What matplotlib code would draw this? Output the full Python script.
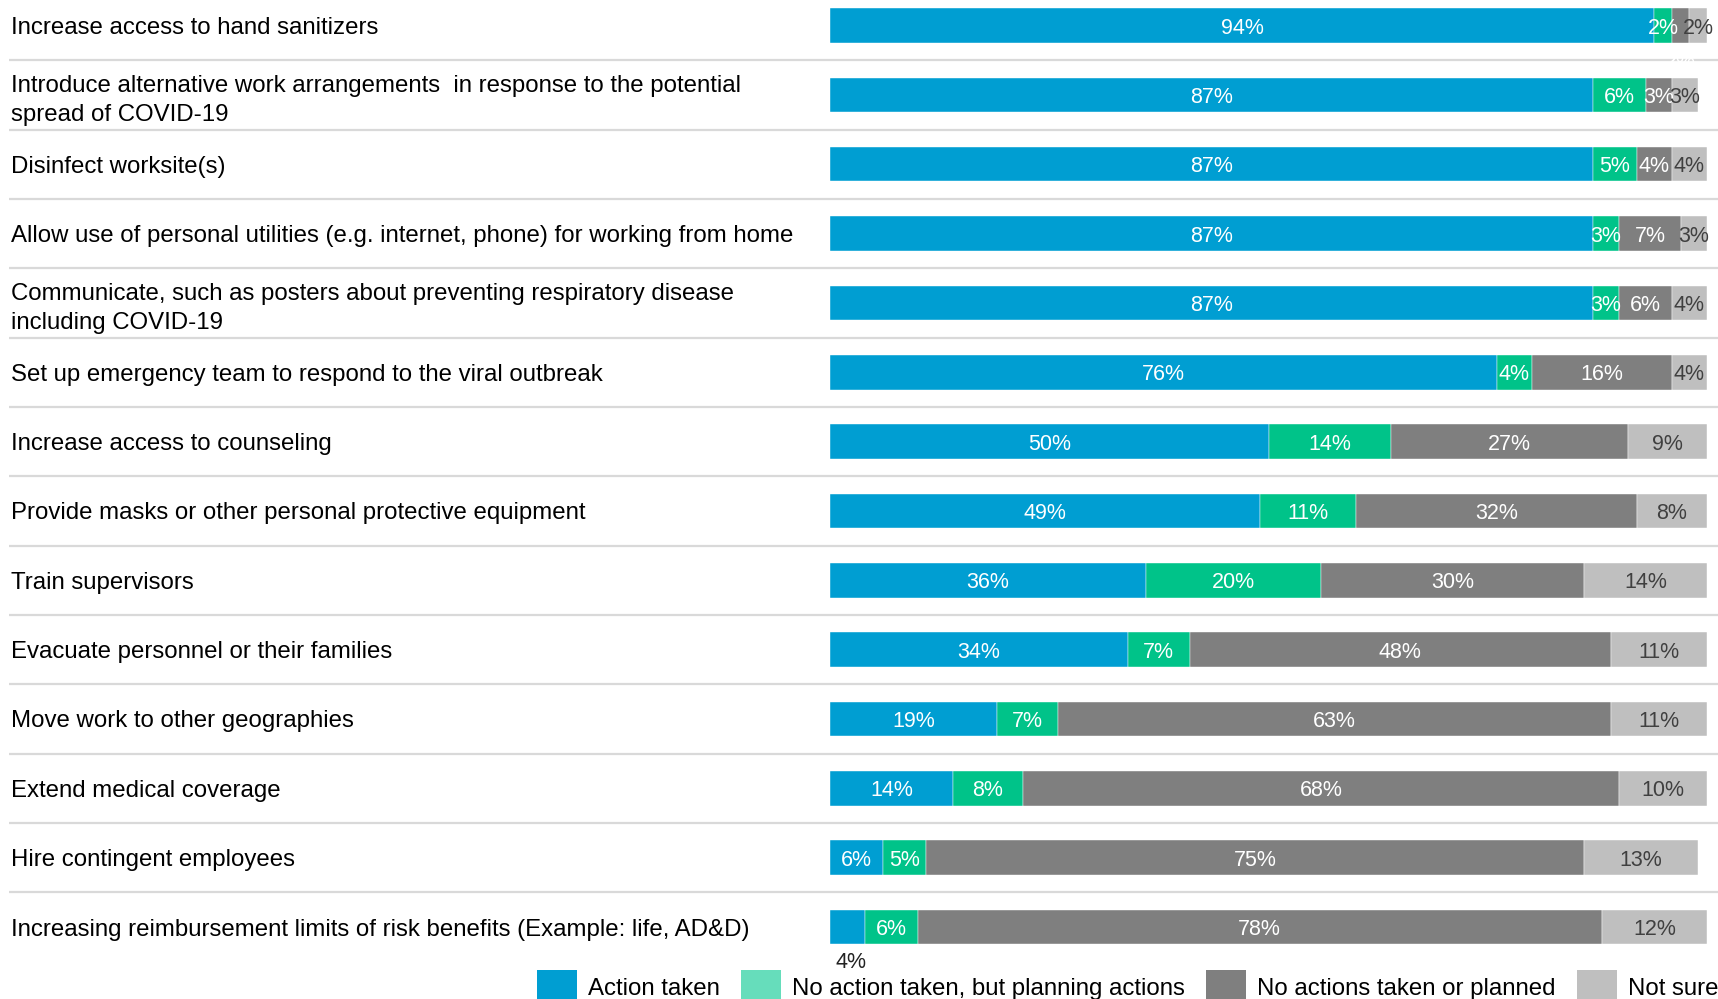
import matplotlib
matplotlib.use("Agg")
import matplotlib.pyplot as plt
import matplotlib.transforms as mtransforms
from matplotlib.patches import Patch

plt.rcParams["font.family"] = ["Liberation Sans", "DejaVu Sans"]

categories = [
    "Increase access to hand sanitizers",
    "Introduce alternative work arrangements  in response to the potential\nspread of COVID-19",
    "Disinfect worksite(s)",
    "Allow use of personal utilities (e.g. internet, phone) for working from home",
    "Communicate, such as posters about preventing respiratory disease\nincluding COVID-19",
    "Set up emergency team to respond to the viral outbreak",
    "Increase access to counseling",
    "Provide masks or other personal protective equipment",
    "Train supervisors",
    "Evacuate personnel or their families",
    "Move work to other geographies",
    "Extend medical coverage",
    "Hire contingent employees",
    "Increasing reimbursement limits of risk benefits (Example: life, AD&D)",
]

action_taken = [94, 87, 87, 87, 87, 76, 50, 49, 36, 34, 19, 14, 6, 4]
planning = [2, 6, 5, 3, 3, 4, 14, 11, 20, 7, 7, 8, 5, 6]
not_planned = [2, 3, 4, 7, 6, 16, 27, 32, 30, 48, 63, 68, 75, 78]
not_sure = [2, 3, 4, 3, 4, 4, 9, 8, 14, 11, 11, 10, 13, 12]

series_names = [
    "Action taken",
    "No action taken, but planning actions",
    "No actions taken or planned",
    "Not sure",
]
series_values = [action_taken, planning, not_planned, not_sure]
bar_colors = ["#009ED2", "#00C389", "#7F7F7F", "#BFBFBF"]
legend_colors = ["#009ED2", "#66DDBB", "#7F7F7F", "#BFBFBF"]
text_colors = ["white", "white", "white", "#404040"]

W, H = 1718, 999
fig = plt.figure(figsize=(W / 100, H / 100), dpi=100)

# axes spans the full height; x covers the 0-100% bar area
x0, x1 = 830, 1707
ax = fig.add_axes([x0 / W, 0, (x1 - x0) / W, 1])
row_top = 25.5
row_step = 69.35
ax.set_xlim(0, 100)
ax.set_ylim((H - row_top) / row_step, -row_top / row_step)
ax.axis("off")

n = len(categories)
ys = list(range(n))
bar_h = 34.5 / row_step
val_fs = 15.5

lefts = [0] * n
for s, (vals, col, tcol) in enumerate(zip(series_values, bar_colors, text_colors)):
    ax.barh(ys, vals, left=lefts, height=bar_h, color=col,
            edgecolor="white", linewidth=0.3)
    for i, v in enumerate(vals):
        cx = lefts[i] + v / 2
        if v >= 5 or (i < 6 and not (i == 0 and s == 2)):
            ax.text(cx, i, f"{v}%", ha="center", va="center_baseline",
                    fontsize=val_fs, color=tcol)
        elif i == 0:
            # too narrow for its label: placed under the bar
            ax.text(cx, i + 0.5, f"{v}%", ha="center", va="center_baseline",
                    fontsize=val_fs, color="white")
        else:
            ax.text(cx + 0.4, i + 0.47, f"{v}%", ha="center",
                    va="center_baseline", fontsize=val_fs, color="#222222")
    lefts = [l + v for l, v in zip(lefts, vals)]

# category labels and row separators, positioned in figure x / data y
tr = mtransforms.blended_transform_factory(fig.transFigure, ax.transData)
for i, cat in enumerate(categories):
    ax.text(11 / W, i, cat, transform=tr, ha="left", va="center_baseline",
            fontsize=17.3, color="black", linespacing=1.38, clip_on=False)
for i in range(n - 1):
    ax.plot([9 / W, 1.0], [i + 0.5, i + 0.5], transform=tr,
            color="#D9D9D9", linewidth=1.6, clip_on=False,
            solid_capstyle="butt")

handles = [Patch(facecolor=c, edgecolor="none") for c in legend_colors]
fig.legend(handles, series_names, loc="lower right",
           bbox_to_anchor=(1.0, -0.006), ncol=4, frameon=False,
           fontsize=17.3, handlelength=1.67, handleheight=1.87,
           handletextpad=0.45, columnspacing=0.88, borderpad=0,
           borderaxespad=0)

fig.savefig("out.png", dpi=100)
